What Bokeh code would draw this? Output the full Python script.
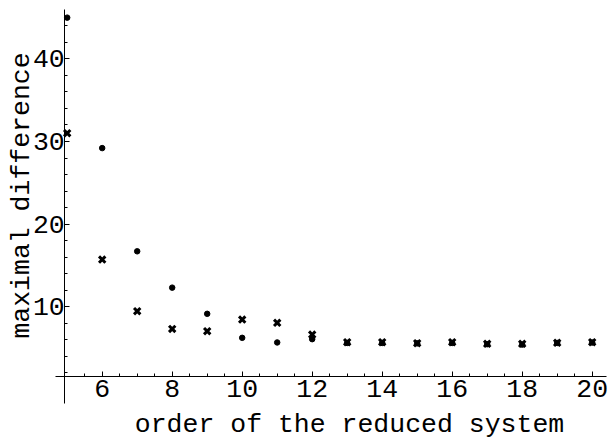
from bokeh.plotting import figure
from bokeh.models import Range1d, FixedTicker, LinearAxis
from bokeh.embed import file_html
from bokeh.resources import INLINE

# data
orders = [5, 6, 7, 8, 9, 10, 11, 12, 13, 14, 15, 16, 17, 18, 19, 20]
dot_values = [45.0, 29.2, 16.7, 12.3, 9.13, 6.22, 5.66, 6.06,
              5.6, 5.6, 5.55, 5.6, 5.45, 5.4, 5.6, 5.65]
cross_values = [31.0, 15.7, 9.45, 7.3, 7.02, 8.44, 8.04, 6.62,
                5.69, 5.69, 5.57, 5.69, 5.5, 5.5, 5.62, 5.69]
x_tick_values = [6, 8, 10, 12, 14, 16, 18, 20]
x_minor_ticks = [5.5 + 0.5 * i for i in range(30)]
y_tick_values = [10, 20, 30, 40]
y_minor_ticks = [2 * i for i in range(1, 23)]
x_title = "order of the reduced system"
y_title = "maximal difference"

FONT = "Liberation Mono"
FSIZE = "26.5px"

# the frame fills the whole figure; the axes cross inside it (Mathematica style)
W, H = 608, 438
x_px = 35.0          # pixels per unit of order
y_px = 8.257         # pixels per unit of difference
x_start = 5 - 66.7 / x_px
x_end = x_start + W / x_px
y_end = 388.7 / y_px
y_start = y_end - H / y_px

p = figure(width=W, height=H, output_backend="svg", toolbar_location=None,
           x_range=Range1d(x_start, x_end), y_range=Range1d(y_start, y_end),
           min_border_left=0, min_border_right=0, min_border_top=0,
           min_border_bottom=0)
p.outline_line_color = None
p.grid.visible = False
p.background_fill_color = "white"
p.border_fill_color = "white"

x_axis_at = 1.574
y_axis_at = 4.93
p.xaxis.fixed_location = x_axis_at
p.yaxis.fixed_location = y_axis_at
p.xaxis.bounds = (4.666, 20.41)
p.yaxis.bounds = (-1.73, 45.99)

p.xaxis.ticker = FixedTicker(ticks=x_tick_values, minor_ticks=x_minor_ticks)
p.yaxis.ticker = FixedTicker(ticks=y_tick_values, minor_ticks=y_minor_ticks)

for ax in (p.xaxis[0], p.yaxis[0]):
    ax.axis_line_color = "black"
    ax.axis_line_width = 1
    ax.major_tick_line_color = "black"
    ax.minor_tick_line_color = "black"
    ax.major_tick_in = 5
    ax.major_tick_out = 0
    ax.minor_tick_in = 3
    ax.minor_tick_out = 0
    ax.major_label_text_font = FONT
    ax.major_label_text_font_size = FSIZE
    ax.major_label_text_color = "black"

p.xaxis.major_label_standoff = 4
p.yaxis.major_label_standoff = 0


def title_axis(label, bounds, standoff):
    ax = LinearAxis(ticker=FixedTicker(ticks=[], minor_ticks=[]),
                    bounds=bounds, axis_label=label,
                    axis_line_color=None, major_tick_line_color=None,
                    minor_tick_line_color=None,
                    axis_label_text_font=FONT,
                    axis_label_text_font_size=FSIZE,
                    axis_label_text_font_style="normal",
                    axis_label_text_color="black",
                    axis_label_standoff=standoff)
    return ax


# axis titles, centred where the reference centres them
x_title_axis = title_axis(x_title, (12.0, 14.13), 33)
x_title_axis.fixed_location = x_axis_at
p.add_layout(x_title_axis, "below")

y_title_axis = title_axis(y_title, (22.46, 24.46), 28)
y_title_axis.fixed_location = y_axis_at
p.add_layout(y_title_axis, "left")

p.scatter(orders, dot_values, marker="circle", size=5.5,
          fill_color="black", line_color="black")
p.scatter(orders, cross_values, marker="x", size=9,
          line_color="black", line_width=3)

open("out.html", "w").write(file_html(p, INLINE))
